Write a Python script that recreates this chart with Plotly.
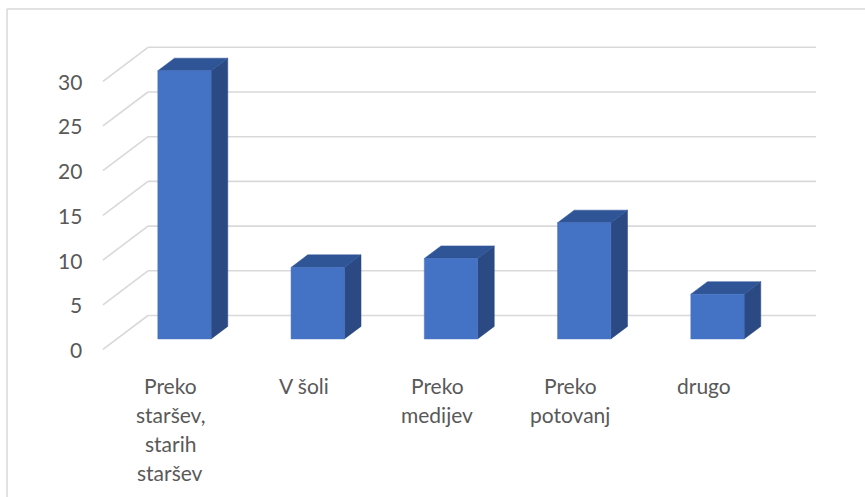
import plotly.graph_objects as go

# Survey answers: where respondents learned about it
categories = ["Preko staršev, starih staršev", "V šoli", "Preko medijev", "Preko potovanj", "drugo"]
category_lines = [["Preko", "staršev,", "starih", "staršev"], ["V šoli"], ["Preko", "medijev"], ["Preko", "potovanj"], ["drugo"]]
values = [30, 8, 9, 13, 5]
tick_values = [0, 5, 10, 15, 20, 25, 30]

# Oblique 3D projection, expressed in axis units
DEPTH_X = 0.338      # horizontal shift of the back wall (category units)
DEPTH_Y = 3.80       # vertical shift of the back wall (value units)
BAR_FRONT = 0.31     # depth fraction of the bar front faces
BAR_BACK = 0.68      # depth fraction of the bar back faces
BAR_HALF = 0.20      # half width of a bar (category units)
WALL_LEFT = -0.507
WALL_RIGHT = 4.507

FRONT = "#4472C4"
SIDE = "#2B4A84"
TOP = "#2F5597"
GRID = "#D9D9D9"
TEXT = "#595959"
FONT = "Lato"
FONT_SIZE = 21

fig = go.Figure()

# back-wall gridlines and left-wall diagonals
gx, gy = [], []
for t in tick_values:
    gx += [WALL_LEFT + DEPTH_X, WALL_RIGHT + DEPTH_X, None]
    gy += [t + DEPTH_Y, t + DEPTH_Y, None]
    gx += [WALL_LEFT, WALL_LEFT + DEPTH_X, None]
    gy += [t, t + DEPTH_Y, None]
fig.add_trace(go.Scatter(x=gx, y=gy, mode="lines", line=dict(color=GRID, width=1.6),
                         hoverinfo="skip", showlegend=False))


def shift(x, y, d):
    return x + d * DEPTH_X, y + d * DEPTH_Y


def face(xs, ys, color):
    fig.add_trace(go.Scatter(x=xs + [xs[0]], y=ys + [ys[0]], mode="lines", fill="toself",
                             fillcolor=color, line=dict(color=color, width=0.5),
                             hoverinfo="skip", showlegend=False))


for i, v in enumerate(values):
    x0, x1 = i - BAR_HALF, i + BAR_HALF
    fl = shift(x0, 0, BAR_FRONT)
    fr = shift(x1, 0, BAR_FRONT)
    ftl = shift(x0, v, BAR_FRONT)
    ftr = shift(x1, v, BAR_FRONT)
    br = shift(x1, 0, BAR_BACK)
    btl = shift(x0, v, BAR_BACK)
    btr = shift(x1, v, BAR_BACK)
    # right side face
    face([fr[0], br[0], btr[0], ftr[0]], [fr[1], br[1], btr[1], ftr[1]], SIDE)
    # top face
    face([ftl[0], ftr[0], btr[0], btl[0]], [ftl[1], ftr[1], btr[1], btl[1]], TOP)
    # front face
    face([fl[0], fr[0], ftr[0], ftl[0]], [fl[1], fr[1], ftr[1], ftl[1]], FRONT)

annotations = []
# value axis labels on the front edge of the left wall
for t in tick_values:
    annotations.append(dict(x=WALL_LEFT, y=t, xref="x", yref="y", text=str(t),
                            showarrow=False, xanchor="right", yanchor="middle", xshift=-19,
                            font=dict(family=FONT, size=FONT_SIZE, color=TEXT)))
# category labels, one line at a time
for i, lines in enumerate(category_lines):
    for k, line in enumerate(lines):
        annotations.append(dict(x=i, y=0, xref="x", yref="y", text=line, showarrow=False,
                                xanchor="center", yanchor="middle", yshift=-(36 + 29 * k),
                                font=dict(family=FONT, size=FONT_SIZE, color=TEXT)))

fig.update_layout(
    width=865, height=497,
    margin=dict(l=0, r=0, t=0, b=0),
    paper_bgcolor="white", plot_bgcolor="white",
    xaxis=dict(range=[-1.2795, 5.2120], visible=False, fixedrange=True),
    yaxis=dict(range=[-16.50, 39.09], visible=False, fixedrange=True),
    annotations=annotations,
    shapes=[
        dict(type="line", xref="paper", yref="paper", x0=7 / 865, x1=1, y0=1 - 9 / 497, y1=1 - 9 / 497,
             line=dict(color=GRID, width=1.5)),
        dict(type="line", xref="paper", yref="paper", x0=7 / 865, x1=7 / 865, y0=0, y1=1 - 9 / 497,
             line=dict(color=GRID, width=1.5)),
    ],
)

fig.write_html("out.html")
